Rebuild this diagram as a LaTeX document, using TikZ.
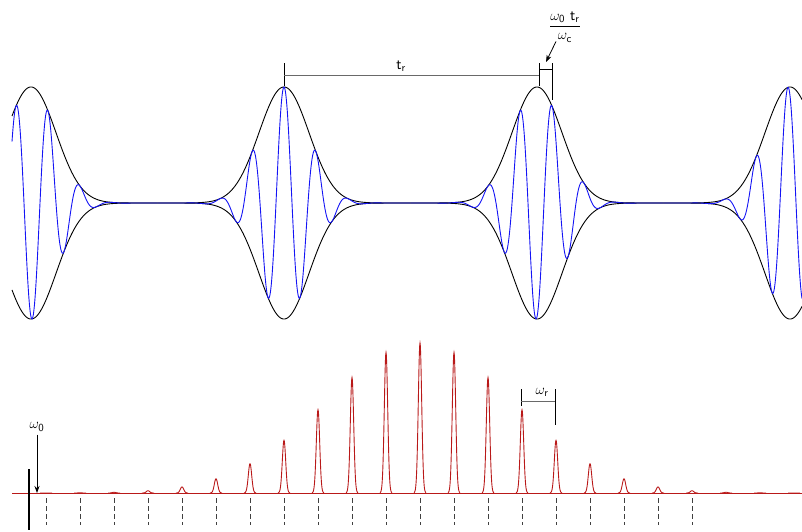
\documentclass[tikz,border=0pt]{standalone}
\usepackage{amsmath}
\usepackage{fontspec}
\setmainfont{DejaVu Sans}
\usetikzlibrary{arrows.meta}
\definecolor{carrier}{RGB}{20,20,245}
\definecolor{spec}{RGB}{185,25,25}
\definecolor{dim}{RGB}{105,105,105}
\tikzset{
  env/.style={black, line width=0.9pt},
  carr/.style={carrier, line width=0.9pt},
  specline/.style={spec, line width=0.9pt},
  tick/.style={black, line width=0.8pt},
  dimline/.style={dim, line width=1pt},
  combdash/.style={black!75, line width=0.8pt, dash pattern=on 5pt off 3pt},
  lbl/.style={inner sep=1pt, font=\fontsize{15.5}{18}\selectfont},
  pointer/.style={black, line width=0.8pt, -{Stealth[length=7pt,width=5pt]}}
}
\begin{document}
\begin{tikzpicture}[x=1pt,y=-1pt]
\useasboundingbox (0,0) rectangle (802,531);
% ---------- time domain: pulse train ----------
\foreach \c/\s/\a/\b in {31/-15/-19/126.5, 284/0/-126.5/126.5, 537/15/-126.5/126.5, 790/30/-126.5/12}{
  \draw[env] plot[domain=\a:\b, samples=260] ({\c+\x}, {203-116*exp(max(-9,-0.5*(\x/25)*(\x/25)))});
  \draw[env] plot[domain=\a:\b, samples=260] ({\c+\x}, {203+116*exp(max(-9,-0.5*(\x/25)*(\x/25)))});
  \draw[carr] plot[domain=\a:\b, samples=500] ({\c+\x}, {203-116*exp(max(-9,-0.5*(\x/25)*(\x/25)))*cos((\x-(\s))/32*360)});
}
% t_r bracket
\coordinate (trTop) at (284,63);
\coordinate (trBot) at (284,86);
\coordinate (trA) at (284,75);
\coordinate (trB) at (539,75);
\draw[tick] (trTop) -- (trBot);
\draw[dimline] (trA) -- (trB);
\node[lbl] (trlab) at (401,66) {$\mathsf{t}_{\mathsf{r}}$};
% phase slip bracket
\coordinate (psLtop) at (539,63);
\coordinate (psLbot) at (539,86);
\coordinate (psRtop) at (552,63);
\coordinate (psRbot) at (552,100);
\coordinate (psBarL) at (539,69);
\coordinate (psBarR) at (552,69);
\draw[tick] (psLtop) -- (psLbot);
\draw[tick] (psRtop) -- (psRbot);
\draw[tick] (psBarL) -- (psBarR);
\node[lbl] (phase) at (565,27) {$\dfrac{\omega_{\mathsf{0}}\ \mathsf{t}_{\mathsf{r}}}{\omega_{\mathsf{c}}}$};
\coordinate (psTip) at (546,62);
\draw[pointer] ([xshift=-9pt,yshift=2pt]phase.south) -- (psTip);
% ---------- frequency domain: comb ----------
\coordinate (baseL) at (12,493);
\coordinate (baseR) at (802,493);
\draw[specline] (baseL) -- (baseR);
\foreach \n in {0,...,22}{
  \pgfmathsetmacro{\xn}{46+34*\n}
  \pgfmathsetmacro{\hn}{150*exp(max(-9,-0.5*((\xn-420)/94)*((\xn-420)/94)))}
  \draw[specline] plot[domain=-6:6, samples=49] ({\xn+\x}, {493-\hn*exp(-0.5*(\x/1.7)*(\x/1.7))});
}
\foreach \n in {0,...,19}{
  \coordinate (d\n a) at ({46+34*\n},498);
  \coordinate (d\n b) at ({46+34*\n},525);
  \draw[combdash] (d\n a) -- (d\n b);
}
% offset frequency
\coordinate (barTop) at (29,469);
\coordinate (barBot) at (29,530);
\draw[black, line width=2.4pt] (barTop) -- (barBot);
\node[lbl] (w0) at (37,427) {$\omega_{\mathsf{0}}$};
\coordinate (w0tip) at (37,493);
\draw[pointer] (w0.south) ++(0,2) -- (w0tip);
% repetition rate bracket
\coordinate (wrLtop) at (521,389);
\coordinate (wrLbot) at (521,406);
\coordinate (wrRtop) at (555,389);
\coordinate (wrRbot) at (555,425);
\coordinate (wrA) at (521,401);
\coordinate (wrB) at (555,401);
\draw[tick] (wrLtop) -- (wrLbot);
\draw[tick] (wrRtop) -- (wrRbot);
\draw[dimline] (wrA) -- (wrB);
\node[lbl] (wr) at (542,392) {$\omega_{\mathsf{r}}$};
\end{tikzpicture}
\end{document}
